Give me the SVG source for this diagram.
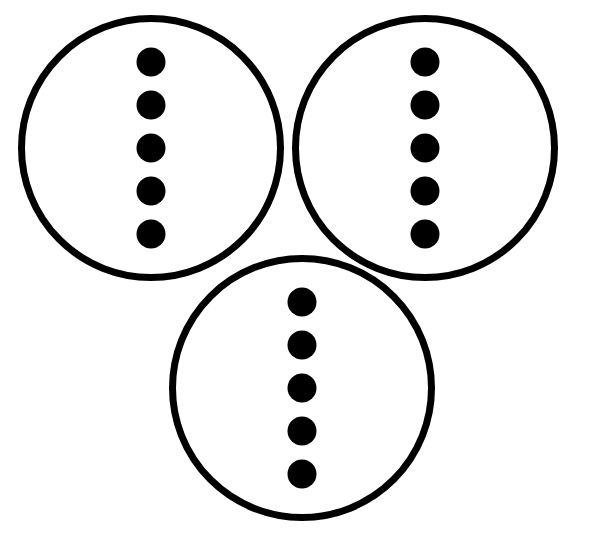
<svg xmlns="http://www.w3.org/2000/svg" width="591" height="541" viewBox="0 0 591 541">
<style>
.ring{fill:#fff;stroke:#000;stroke-width:7}
.dot{fill:#000}
</style>
<rect width="591" height="541" fill="#fff"/>
<g id="node-left">
<circle class="ring" cx="151" cy="148" r="129.5"/>
<circle class="dot" cx="151" cy="62" r="14.5"/>
<circle class="dot" cx="151" cy="105" r="14.5"/>
<circle class="dot" cx="151" cy="148" r="14.5"/>
<circle class="dot" cx="151" cy="191" r="14.5"/>
<circle class="dot" cx="151" cy="234" r="14.5"/>
</g>
<g id="node-right">
<circle class="ring" cx="425" cy="148" r="129.5"/>
<circle class="dot" cx="425" cy="62" r="14.5"/>
<circle class="dot" cx="425" cy="105" r="14.5"/>
<circle class="dot" cx="425" cy="148" r="14.5"/>
<circle class="dot" cx="425" cy="191" r="14.5"/>
<circle class="dot" cx="425" cy="234" r="14.5"/>
</g>
<g id="node-bottom">
<circle class="ring" cx="302" cy="388" r="129.5"/>
<circle class="dot" cx="302" cy="302" r="14.5"/>
<circle class="dot" cx="302" cy="345" r="14.5"/>
<circle class="dot" cx="302" cy="388" r="14.5"/>
<circle class="dot" cx="302" cy="431" r="14.5"/>
<circle class="dot" cx="302" cy="474" r="14.5"/>
</g>
<g id="connectors"></g>
</svg>
